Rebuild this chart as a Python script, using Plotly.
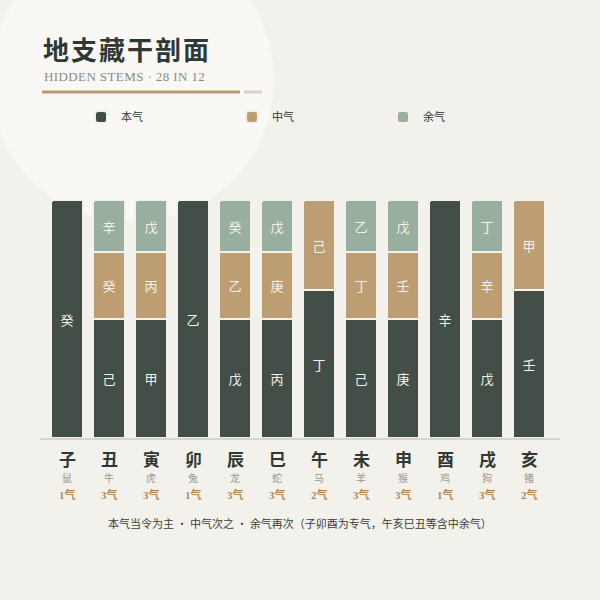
import plotly.graph_objects as go

branches = ['子', '丑', '寅', '卯', '辰', '巳', '午', '未', '申', '酉', '戌', '亥']
animals = ['鼠', '牛', '虎', '兔', '龙', '蛇', '马', '羊', '猴', '鸡', '狗', '猪']
qi_counts = ['1气', '3气', '3气', '1气', '3气', '3气', '2气', '3气', '3气', '1气', '3气', '2气']

main_stems = ['癸', '己', '甲', '乙', '戊', '丙', '丁', '己', '庚', '辛', '戊', '壬']
mid_stems = ['', '癸', '丙', '', '乙', '庚', '己', '丁', '壬', '', '辛', '甲']
res_stems = ['', '辛', '戊', '', '癸', '戊', '', '乙', '戊', '', '丁', '']

main_vals = [100, 50, 50, 100, 50, 50, 62, 50, 50, 100, 50, 62]
mid_vals = [0, 28, 28, 0, 28, 28, 38, 28, 28, 0, 28, 38]
res_vals = [0, 22, 22, 0, 22, 22, 0, 22, 22, 0, 22, 0]

BG = '#f3f1ec'
C_MAIN = '#434e49'
C_MID = '#bc9e72'
C_RES = '#98ae9f'
CJK = 'Noto Sans CJK SC'
SERIF = 'Liberation Serif, Noto Sans CJK SC'

# plot area in pixels
L, R, T, B = 46, 550, 200, 438
PW, PH = R - L, B - T


def px(xp):
    return (xp - L) / PW


def py(yp):
    return (B - yp) / PH


fig = go.Figure()
for name, vals, txt, col in [('本气', main_vals, main_stems, C_MAIN),
                             ('中气', mid_vals, mid_stems, C_MID),
                             ('余气', res_vals, res_stems, C_RES)]:
    fig.add_trace(go.Bar(
        x=branches, y=vals, name=name, text=txt,
        textposition='inside', insidetextanchor='middle', textangle=0,
        textfont=dict(color='#f4f1ea', size=13, family=CJK),
        marker=dict(color=col, line=dict(color=BG, width=2), cornerradius=3),
        hoverinfo='skip', cliponaxis=False,
    ))

shapes = [
    # soft light circle in background
    dict(type='circle', xref='paper', yref='paper', layer='below',
         x0=px(-10), x1=px(274), y0=py(222), y1=py(-62),
         fillcolor='#f9f8f5', line=dict(width=0)),
    # title underline
    dict(type='line', xref='paper', yref='paper', x0=px(42), x1=px(240), y0=py(92), y1=py(92),
         line=dict(color='#b8976a', width=3)),
    dict(type='line', xref='paper', yref='paper', x0=px(244), x1=px(262), y0=py(92), y1=py(92),
         line=dict(color='#ddd2c3', width=3)),
    # baseline
    dict(type='line', xref='paper', yref='paper', x0=px(40), x1=px(560), y0=py(439), y1=py(439),
         line=dict(color='#d6d4cd', width=2)),
]

annotations = [
    dict(text='<span style="letter-spacing:2px"><b>地支藏干剖面</b></span>', xref='paper', yref='paper',
         x=px(41), y=py(48), xanchor='left', yanchor='middle', showarrow=False,
         font=dict(family=CJK, size=26, color='#2f3834')),
    dict(text='<span style="letter-spacing:0.4px">HIDDEN STEMS · 28 IN 12</span>', xref='paper', yref='paper',
         x=px(42), y=py(76), xanchor='left', yanchor='middle', showarrow=False,
         font=dict(family=SERIF, size=13, color='#8b8b86')),
    dict(text='本气当令为主 · 中气次之 · 余气再次（子卯酉为专气，午亥巳丑等含中余气）',
         xref='paper', yref='paper', x=px(300), y=py(523), xanchor='center', yanchor='middle',
         showarrow=False, font=dict(family=CJK, size=11, color='#3a3d3b')),
]
for b, a, q in zip(branches, animals, qi_counts):
    annotations.append(dict(text='<b>' + b + '</b>', x=b, xref='x', yref='paper', y=py(458),
                            xanchor='center', yanchor='middle', showarrow=False,
                            font=dict(family=CJK, size=17, color='#2f3834')))
    annotations.append(dict(text=a, x=b, xref='x', yref='paper', y=py(477),
                            xanchor='center', yanchor='middle', showarrow=False,
                            font=dict(family=CJK, size=10, color='#9a9893')))
    annotations.append(dict(text='<b>' + q + '</b>', x=b, xref='x', yref='paper', y=py(494),
                            xanchor='center', yanchor='middle', showarrow=False,
                            font=dict(family=SERIF, size=11, color='#b08a55')))

fig.update_layout(
    width=600, height=600,
    margin=dict(l=L, r=600 - R, t=T, b=600 - B),
    paper_bgcolor=BG, plot_bgcolor='rgba(0,0,0,0)',
    barmode='stack', bargap=0.238,
    showlegend=True,
    legend=dict(orientation='h', x=px(81), y=py(117), xanchor='left', yanchor='middle',
                entrywidth=106, entrywidthmode='pixels', bgcolor='rgba(0,0,0,0)',
                font=dict(family=CJK, size=11, color='#2f3834'), traceorder='normal'),
    xaxis=dict(showticklabels=False, showgrid=False, zeroline=False, showline=False,
               range=[-0.5, 11.5], fixedrange=True),
    yaxis=dict(range=[0, 100], showticklabels=False, showgrid=False, zeroline=False,
               showline=False, fixedrange=True),
    shapes=shapes, annotations=annotations,
    uniformtext=dict(mode='show', minsize=8),
)

fig.write_html('out.html', config={'displayModeBar': False},
               post_script="document.body.style.margin='0';document.body.style.overflow='hidden';")
